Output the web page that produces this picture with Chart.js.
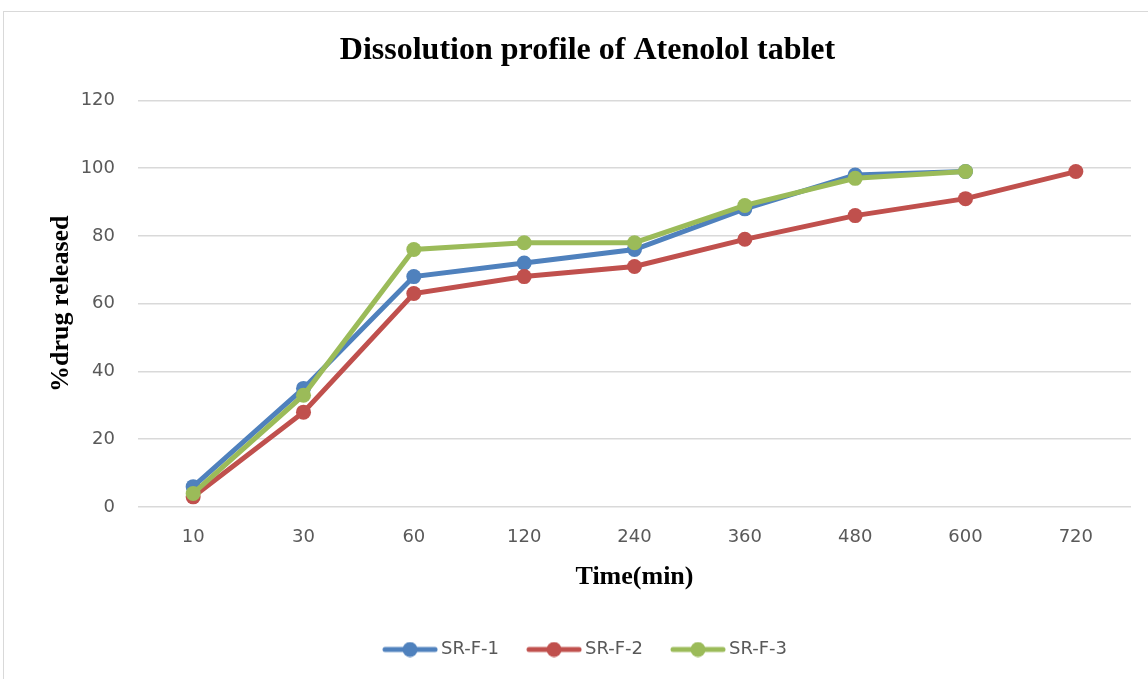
<!DOCTYPE html>
<html>
<head>
<meta charset="utf-8">
<script src="https://cdn.jsdelivr.net/npm/chart.js@4.4.1/dist/chart.umd.min.js"></script>
<style>
  html, body { margin: 0; padding: 0; background: #ffffff; }
  #wrap { position: relative; width: 1148px; height: 679px; overflow: hidden; }
  #frame { position: absolute; left: 3px; top: 11px; width: 1160px; height: 700px; border: 1px solid #d9d9d9; box-sizing: border-box; }
  canvas { position: absolute; left: 0; top: 0; }
</style>
</head>
<body>
<div id="wrap">
  <div id="frame"></div>
  <canvas id="c" width="1148" height="679"></canvas>
</div>
<script>
const categories = ["10", "30", "60", "120", "240", "360", "480", "600", "720"];
const srf1 = [6, 35, 68, 72, 76, 88, 98, 99, null];
const srf2 = [3, 28, 63, 68, 71, 79, 86, 91, 99];
const srf3 = [4, 33, 76, 78, 78, 89, 97, 99, null];
const yTicks = [0, 20, 40, 60, 80, 100, 120];
const seriesNames = ["SR-F-1", "SR-F-2", "SR-F-3"];
const colors = ["#4F81BD", "#C0504D", "#9BBB59"];

function legendIcon(color) {
  const cv = document.createElement('canvas');
  cv.width = 56; cv.height = 16;
  const g = cv.getContext('2d');
  g.strokeStyle = color; g.lineWidth = 5; g.lineCap = 'round';
  g.beginPath(); g.moveTo(3, 8); g.lineTo(53, 8); g.stroke();
  g.fillStyle = color;
  g.beginPath(); g.arc(28, 8, 7.5, 0, Math.PI * 2); g.fill();
  return cv;
}
const icons = colors.map(legendIcon);

const mk = (i, data) => ({
  label: seriesNames[i],
  data: data,
  order: 3 - i,
  borderColor: colors[i],
  backgroundColor: colors[i],
  borderWidth: 5,
  pointRadius: 7.5,
  pointHoverRadius: 7.5,
  pointBorderWidth: 0,
  tension: 0,
  spanGaps: false
});

const tickFont = { family: '"DejaVu Sans", "Open Sans", sans-serif', size: 18 };
const axisTitleFont = { family: '"Liberation Serif", "Times New Roman", serif', size: 26, weight: 'bold' };

new Chart(document.getElementById('c'), {
  type: 'line',
  data: {
    labels: categories,
    datasets: [mk(0, srf1), mk(1, srf2), mk(2, srf3)]
  },
  options: {
    responsive: false,
    animation: false,
    layout: { padding: { left: 44, right: 17, top: 11, bottom: 10.5 } },
    plugins: {
      title: {
        display: true,
        text: 'Dissolution profile of Atenolol tablet',
        color: '#000000',
        font: { family: '"Liberation Serif", "Times New Roman", serif', size: 32, weight: 'bold' },
        padding: { top: 21, bottom: 30 }
      },
      legend: {
        position: 'bottom',
        labels: {
          usePointStyle: true,
          pointStyleWidth: 44,
          color: '#595959',
          font: tickFont,
          padding: 33,
          generateLabels: (chart) => chart.data.datasets.map((d, i) => ({
            text: d.label,
            fillStyle: colors[i],
            strokeStyle: colors[i],
            pointStyle: icons[i],
            datasetIndex: i,
            fontColor: '#595959',
            hidden: false
          }))
        }
      },
      tooltip: { enabled: false }
    },
    scales: {
      x: {
        offset: true,
        afterFit: (s) => { s.height = 100.5; },
        grid: { display: false, drawTicks: false },
        border: { display: false },
        ticks: { color: '#595959', font: tickFont, padding: 20 },
        title: {
          display: true,
          text: 'Time(min)',
          color: '#000000',
          font: axisTitleFont,
          padding: { top: 0, bottom: 15 }
        }
      },
      y: {
        min: 0, max: 120,
        afterFit: (s) => { s.width = 94; },
        afterBuildTicks: (s) => { s.ticks = yTicks.map(v => ({ value: v })); },
        grid: { color: '#d9d9d9', lineWidth: 1.5, drawTicks: false },
        border: { display: false },
        ticks: { color: '#595959', font: tickFont, padding: 23 },
        title: {
          display: true,
          text: '%drug released',
          color: '#000000',
          font: axisTitleFont,
          padding: { top: 2, bottom: 0 }
        }
      }
    }
  }
});
</script>
</body>
</html>
